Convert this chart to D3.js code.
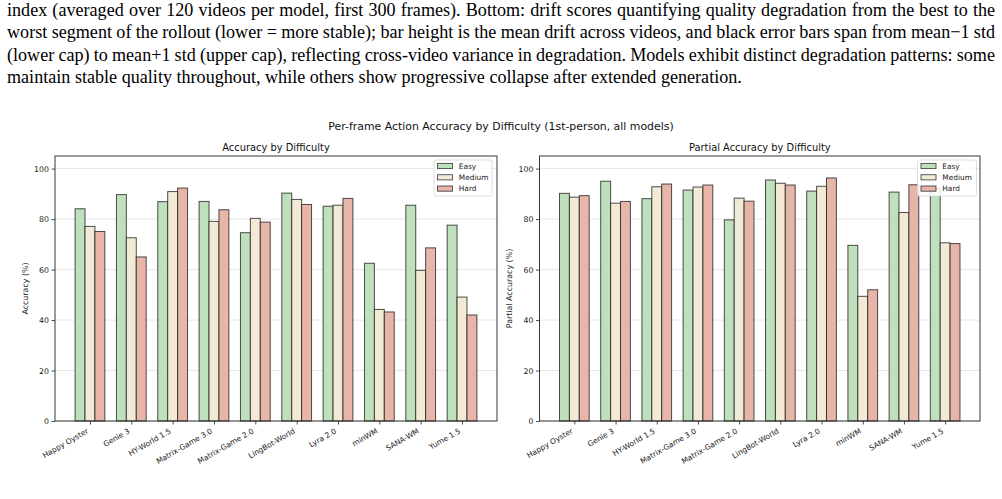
<!DOCTYPE html>
<html><head><meta charset="utf-8">
<script src="https://cdn.jsdelivr.net/npm/d3@7"></script>
<style>
html,body{margin:0;padding:0;background:#fff;overflow:hidden;}
svg{display:block;}
</style></head>
<body>
<svg id="c" width="1002" height="499"></svg>
<script>
// ---- data ----
const models = ["Happy Oyster","Genie 3","HY-World 1.5","Matrix-Game 3.0","Matrix-Game 2.0","LingBot-World","Lyra 2.0","minWM","SANA-WM","Yume 1.5"];
const difficulties = ["Easy","Medium","Hard"];
const easyAcc   = [84.1, 89.7, 86.9, 87.0, 74.6, 90.3, 85.1, 62.5, 85.5, 77.6];
const mediumAcc = [77.1, 72.6, 90.9, 79.1, 80.3, 87.8, 85.5, 44.2, 59.7, 49.1];
const hardAcc   = [75.1, 65.0, 92.3, 83.7, 78.8, 85.8, 88.2, 43.2, 68.6, 42.0];
const easyPartial   = [90.2, 95.0, 88.1, 91.5, 79.7, 95.5, 91.1, 69.6, 90.7, 92.1];
const mediumPartial = [88.7, 86.3, 92.8, 92.7, 88.3, 94.2, 93.0, 49.4, 82.6, 70.6];
const hardPartial   = [89.3, 87.0, 93.9, 93.5, 87.1, 93.5, 96.3, 52.0, 93.6, 70.3];
const yTicks = [0, 20, 40, 60, 80, 100];
const suptitle = "Per-frame Action Accuracy by Difficulty (1st-person, all models)";
const panelTitles = ["Accuracy by Difficulty", "Partial Accuracy by Difficulty"];
const yLabels = ["Accuracy (%)", "Partial Accuracy (%)"];
const captionLines = [
  "index (averaged over 120 videos per model, first 300 frames). Bottom: drift scores quantifying quality degradation from the best to the",
  "worst segment of the rollout (lower = more stable); bar height is the mean drift across videos, and black error bars span from mean\u22121 std",
  "(lower cap) to mean+1 std (upper cap), reflecting cross-video variance in degradation. Models exhibit distinct degradation patterns: some",
  "maintain stable quality throughout, while others show progressive collapse after extended generation."
];

const colors = ["#bfe0bd", "#f2ead5", "#e8b5a9"];
const svg = d3.select("#c");

// ---- caption (justified serif text) ----
const capFont = "'Liberation Serif','Times New Roman',serif";
const capX0 = 7, capX1 = 995, capBase = 15.5, capLH = 22.6;
// find font size so that the justified lines fit with natural spacing
const probe = svg.append("text").attr("font-family", capFont).attr("font-size", 16);
const natural = captionLines.slice(0, 3).map(l => { probe.text(l); return probe.node().getComputedTextLength(); });
probe.remove();
const capSize = 16 * (capX1 - capX0) / d3.mean(natural);
captionLines.forEach((line, li) => {
  const yy = capBase + li * capLH;
  const words = line.split(" ");
  const g = svg.append("g");
  const nodes = words.map(w => g.append("text").attr("y", yy).attr("font-family", capFont)
      .attr("font-size", capSize).attr("fill", "#000").text(w));
  const widths = nodes.map(n => n.node().getComputedTextLength());
  const total = d3.sum(widths);
  const justify = li < captionLines.length - 1;
  const gap = justify ? (capX1 - capX0 - total) / (words.length - 1) : capSize * 0.25;
  let xx = capX0;
  nodes.forEach((n, i) => { n.attr("x", xx); xx += widths[i] + gap; });
});

// ---- suptitle ----
const sans = "'DejaVu Sans', sans-serif";
svg.append("text").attr("x", 501).attr("y", 129.5).attr("text-anchor", "middle")
  .attr("font-family", sans).attr("font-size", 10.9).attr("fill", "#111").text(suptitle);

// ---- panels ----
const barW = 0.24;
const lo = -1.5 * barW - 0.05 * (models.length - 1 + 3 * barW);
const hi = models.length - 1 + 1.5 * barW + 0.05 * (models.length - 1 + 3 * barW);
const panels = [
  {left: 55, right: 497, series: [easyAcc, mediumAcc, hardAcc], legend: [434, 492], ylabX: 28},
  {left: 539.5, right: 980, series: [easyPartial, mediumPartial, hardPartial], legend: [917.5, 976.5], ylabX: 512}
];
const axTop = 156, axBottom = 421;

panels.forEach((p, pi) => {
  const x = d3.scaleLinear().domain([lo, hi]).range([p.left, p.right]);
  const y = d3.scaleLinear().domain([0, 105]).range([axBottom, axTop]);
  const g = svg.append("g");

  // grid
  g.selectAll("line.grid").data(yTicks).join("line")
    .attr("x1", p.left).attr("x2", p.right)
    .attr("y1", d => y(d)).attr("y2", d => y(d))
    .attr("stroke", "#e4e4e4").attr("stroke-width", 0.9);

  // bars
  p.series.forEach((vals, si) => {
    g.selectAll("rect.s" + si).data(vals).join("rect").attr("class", "s" + si)
      .attr("x", (d, i) => x(i + (si - 1) * barW - barW / 2))
      .attr("width", x(barW) - x(0))
      .attr("y", d => y(d))
      .attr("height", d => y(0) - y(d))
      .attr("fill", colors[si])
      .attr("stroke", "#222").attr("stroke-opacity", 0.8).attr("stroke-width", 1);
  });

  // axes frame
  g.append("rect").attr("x", p.left).attr("y", axTop).attr("width", p.right - p.left)
    .attr("height", axBottom - axTop).attr("fill", "none").attr("stroke", "#222").attr("stroke-width", 0.9);

  // y axis
  const ya = d3.axisLeft(y).tickValues(yTicks).tickSize(3.5).tickPadding(2.5).tickFormat(d3.format("d"));
  const yg = svg.append("g").attr("transform", `translate(${p.left},0)`).call(ya);
  yg.select(".domain").remove();
  yg.selectAll("text").attr("font-family", sans).attr("font-size", 7.8).attr("fill", "#222");
  yg.selectAll("line").attr("stroke", "#222").attr("stroke-width", 0.8);

  // x axis
  const xa = d3.axisBottom(x).tickValues(d3.range(models.length)).tickSize(3.5).tickFormat(i => models[i]);
  const xg = svg.append("g").attr("transform", `translate(0,${axBottom})`).call(xa);
  xg.select(".domain").remove();
  xg.selectAll("line").attr("stroke", "#222").attr("stroke-width", 0.8);
  xg.selectAll("text").attr("font-family", sans).attr("font-size", 7.5).attr("fill", "#222")
    .attr("text-anchor", "end").attr("dy", null).attr("y", null)
    .attr("transform", "translate(-1.5,11.5) rotate(-30)");

  // titles
  svg.append("text").attr("x", (p.left + p.right) / 2).attr("y", 151).attr("text-anchor", "middle")
    .attr("font-family", sans).attr("font-size", 9.9).attr("fill", "#111").text(panelTitles[pi]);
  svg.append("text").attr("transform", `translate(${p.ylabX},${(axTop + axBottom) / 2}) rotate(-90)`)
    .attr("text-anchor", "middle").attr("font-family", sans).attr("font-size", 7.9).attr("fill", "#222")
    .text(yLabels[pi]);

  // legend
  const lg = svg.append("g");
  lg.append("rect").attr("x", p.legend[0]).attr("y", 160).attr("width", p.legend[1] - p.legend[0])
    .attr("height", 36).attr("rx", 2).attr("fill", "#fff").attr("fill-opacity", 0.85)
    .attr("stroke", "#d6d6d6").attr("stroke-width", 0.8);
  difficulties.forEach((d, i) => {
    const cy = 166 + i * 11.3;
    lg.append("rect").attr("x", p.legend[0] + 3.5).attr("y", cy - 2.6).attr("width", 15).attr("height", 5.2)
      .attr("fill", colors[i]).attr("stroke", "#222").attr("stroke-opacity", 0.8).attr("stroke-width", 0.9);
    lg.append("text").attr("x", p.legend[0] + 24.8).attr("y", cy + 2.7)
      .attr("font-family", sans).attr("font-size", 7.4).attr("fill", "#222").text(d);
  });
});
</script>
</body></html>
